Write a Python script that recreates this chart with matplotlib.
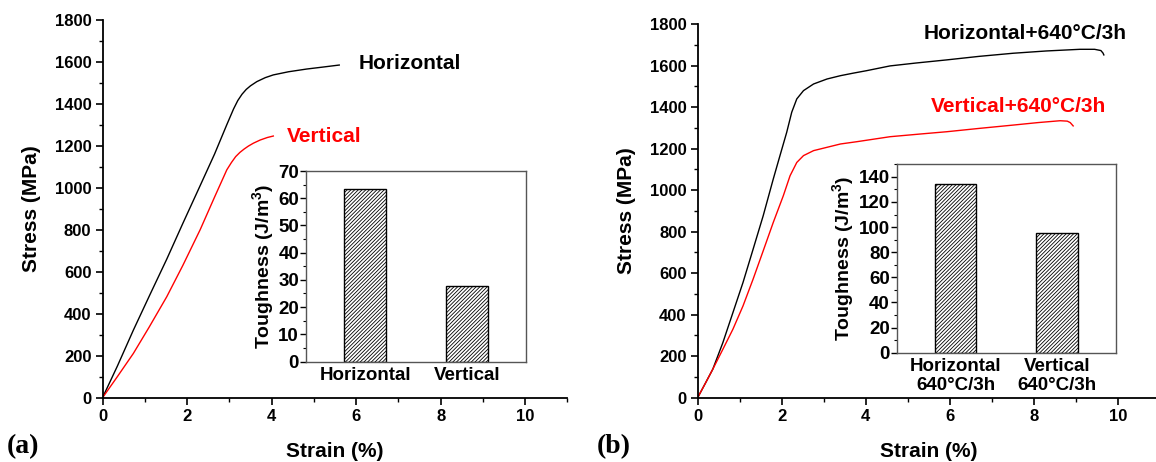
import matplotlib
matplotlib.use("Agg")
import matplotlib.pyplot as plt
from matplotlib.ticker import MultipleLocator

# stress-strain curves, as-built samples
strain_h = [0, 0.35, 0.73, 1.12, 1.52, 1.9, 2.31, 2.65, 2.94, 3.1, 3.2,
            3.3, 3.4, 3.5, 3.65, 3.85, 4.04, 4.4, 4.83, 5.2, 5.6]
stress_h = [0, 150, 322, 490, 660, 830, 1010, 1160, 1300, 1375, 1415,
            1445, 1468, 1485, 1505, 1524, 1537, 1552, 1565, 1574, 1584]
strain_v = [0, 0.35, 0.73, 1.1, 1.52, 1.9, 2.31, 2.65, 2.94, 3.05, 3.15,
            3.25, 3.35, 3.45, 3.57, 3.73, 3.9, 4.04]
stress_v = [0, 100, 211, 335, 481, 630, 800, 955, 1085, 1120, 1148,
            1168, 1184, 1198, 1212, 1227, 1239, 1246]

# stress-strain curves, 640 C / 3 h heat treated
strain_ht_h = [0, 0.18, 0.36, 0.6, 0.84, 1.08, 1.32, 1.56, 1.8, 1.96, 2.12,
               2.24, 2.36, 2.52, 2.76, 3.08, 3.4, 3.7, 4.02, 4.58, 5.2,
               5.93, 6.7, 7.51, 8.3, 9.1, 9.45, 9.6, 9.65, 9.67]
stress_ht_h = [0, 68, 137, 265, 410, 555, 715, 876, 1053, 1166, 1278,
               1375, 1439, 1479, 1511, 1535, 1551, 1563, 1575, 1598, 1612,
               1627, 1644, 1659, 1670, 1678, 1678, 1672, 1660, 1651]
strain_ht_v = [0, 0.18, 0.36, 0.6, 0.84, 1.08, 1.32, 1.56, 1.8, 2.04, 2.2,
               2.36, 2.52, 2.76, 3.08, 3.4, 3.79, 4.58, 5.3, 5.93, 6.7,
               7.51, 8.1, 8.63, 8.8, 8.87, 8.94]
stress_ht_v = [0, 68, 137, 233, 330, 442, 571, 707, 844, 973, 1069,
               1133, 1166, 1190, 1206, 1222, 1233, 1257, 1270, 1281, 1297,
               1313, 1325, 1334, 1332, 1325, 1309]

# toughness bars for the insets
bar_labels = ["Horizontal", "Vertical"]
toughness = [63.5, 27.8]
bar_labels_ht = ["Horizontal\n640°C/3h", "Vertical\n640°C/3h"]
toughness_ht = [134.2, 95.5]

plt.rcParams["font.family"] = ["Liberation Sans", "DejaVu Sans"]
plt.rcParams["font.weight"] = "bold"
plt.rcParams["mathtext.fontset"] = "custom"
plt.rcParams["mathtext.rm"] = "Liberation Sans:bold"
plt.rcParams["mathtext.bf"] = "Liberation Sans:bold"
plt.rcParams["hatch.linewidth"] = 0.6


def style_main(ax, ymax):
    for side in ("top", "right"):
        ax.spines[side].set_visible(False)
    for side in ("left", "bottom"):
        ax.spines[side].set_linewidth(1.3)
    ax.set_xlim(0, 11)
    ax.set_ylim(0, ymax)
    ax.set_xticks([0, 2, 4, 6, 8, 10])
    ax.xaxis.set_minor_locator(MultipleLocator(1))
    ax.yaxis.set_major_locator(MultipleLocator(200))
    ax.yaxis.set_minor_locator(MultipleLocator(100))
    ax.tick_params(which="major", direction="out", length=5, width=1.2,
                   labelsize=12, pad=3)
    ax.tick_params(which="minor", direction="out", length=3, width=1.0)
    ax.set_xlabel("Strain (%)", fontsize=15, fontweight="bold", labelpad=13)
    ax.set_ylabel("Stress (MPa)", fontsize=15, fontweight="bold", labelpad=10)


def style_inset(ax, labels, values, ymax, major, minor):
    ax.bar([0, 1], values, width=0.41, color="white", edgecolor="black",
           hatch="/////////", linewidth=1.0)
    ax.set_xlim(-0.58, 1.58)
    ax.set_ylim(0, ymax)
    ax.set_xticks([0, 1])
    ax.set_xticklabels(labels, fontsize=13.5, linespacing=1.1)
    ax.yaxis.set_major_locator(MultipleLocator(major))
    ax.yaxis.set_minor_locator(MultipleLocator(minor))
    ax.tick_params(axis="x", length=0, pad=4)
    ax.tick_params(axis="y", which="major", direction="out", length=4,
                   width=1.0, labelsize=13.5, pad=1)
    ax.tick_params(axis="y", which="minor", direction="out", length=2, width=0.8)
    for side in ax.spines:
        ax.spines[side].set_linewidth(1.0)
        ax.spines[side].set_color("#555555")
    ax.set_ylabel(r"Toughness (J/m$^{\mathbf{3}}$)", fontsize=14,
                  fontweight="bold", labelpad=1)


def main():
    fig = plt.figure(figsize=(11.56, 4.62), dpi=100)

    # panel (a)
    ax1 = fig.add_axes([0.0887, 0.1392, 0.4022, 0.8182])
    ax1.plot(strain_h, stress_h, color="black", lw=1.0)
    ax1.plot(strain_v, stress_v, color="red", lw=1.0)
    style_main(ax1, 1800)
    ax1.text(6.05, 1589, "Horizontal", fontsize=15, fontweight="bold",
             va="center", ha="left")
    ax1.text(4.37, 1246, "Vertical", fontsize=15, fontweight="bold",
             color="red", va="center", ha="left")
    fig.text(0.006, 0.033, "(a)", fontsize=20, fontweight="bold",
             family="Liberation Serif", va="center")

    in1 = fig.add_axes([0.2647, 0.2175, 0.1903, 0.4123])
    style_inset(in1, bar_labels, toughness, 70, 10, 5)

    # panel (b)
    ax2 = fig.add_axes([0.6035, 0.1392, 0.3997, 0.8089])
    ax2.plot(strain_ht_h, stress_ht_h, color="black", lw=1.0)
    ax2.plot(strain_ht_v, stress_ht_v, color="red", lw=1.0)
    style_main(ax2, 1800)
    ax2.text(5.37, 1752, "Horizontal+640°C/3h", fontsize=15, fontweight="bold",
             va="center", ha="left")
    ax2.text(5.55, 1403, "Vertical+640°C/3h", fontsize=15, fontweight="bold",
             color="red", va="center", ha="left")
    fig.text(0.516, 0.033, "(b)", fontsize=20, fontweight="bold",
             family="Liberation Serif", va="center")

    in2 = fig.add_axes([0.7757, 0.2366, 0.1897, 0.4078])
    style_inset(in2, bar_labels_ht, toughness_ht, 150, 20, 10)

    fig.savefig("out.png", dpi=100)


if __name__ == "__main__":
    main()
